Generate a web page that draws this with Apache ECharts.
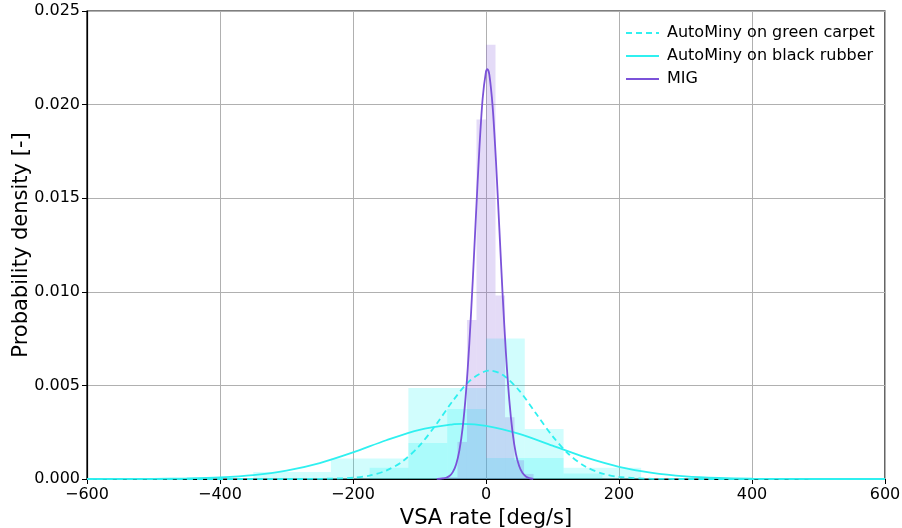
<!DOCTYPE html>
<html>
<head>
<meta charset="utf-8">
<script src="https://cdn.jsdelivr.net/npm/echarts@6/dist/echarts.min.js"></script>
<style>html,body{margin:0;padding:0;background:#fff}#c{width:902px;height:528px}</style>
</head>
<body>
<div id="c"></div>
<script>
// ---- data ----
const xTicks = [-600, -400, -200, 0, 200, 400, 600];
const yTicks = [0, 0.005, 0.010, 0.015, 0.020, 0.025];

// histogram: AutoMiny on green carpet
const greenEdges = [-175, -116.7, -58.3, 0, 58.3, 116.7, 175];
const greenDens  = [0.0006, 0.00192, 0.00374, 0.0075, 0.00267, 0.0003];
// histogram: AutoMiny on black rubber
const blackEdges = [-350, -233.3, -116.7, 0, 116.7, 233.3];
const blackDens  = [0.00037, 0.0011, 0.00486, 0.00112, 0.0006];
// histogram: MIG
const migEdges = [-71.5, -57.2, -42.9, -28.6, -14.3, 0, 14.3, 28.6, 42.9, 57.2, 71.5];
const migDens  = [0.0001, 0.0001, 0.00198, 0.0085, 0.0192, 0.0232, 0.0098, 0.0033, 0.0010, 0.00027];

const greenCurveX = [-600, -300, -250, -200, -175, -150, -125, -100, -75, -50, -25, 0, 6, 25, 50, 75, 100, 125, 150, 175, 200, 250, 300, 600];
const greenCurveY = [0, 0, 0.000006, 0.000067, 0.000186, 0.000449, 0.000954, 0.00178, 0.00291, 0.00417, 0.00523, 0.00577, 0.00579, 0.00557, 0.00472, 0.00351, 0.00229, 0.00131, 0.000656, 0.000289, 0.000111, 0.000011, 0, 0];
const blackCurveX = [-600, -500, -450, -400, -350, -300, -250, -200, -150, -100, -50, -36, 0, 50, 100, 150, 200, 250, 300, 350, 400, 500, 600];
const blackCurveY = [0.0000005, 0.0000087, 0.0000286, 0.0000818, 0.000204, 0.000447, 0.000853, 0.00142, 0.00207, 0.00263, 0.00292, 0.00294, 0.00284, 0.00241, 0.00178, 0.00115, 0.000652, 0.000322, 0.000139, 0.0000524, 0.0000173, 0.0000012, 0];
const migCurveX = [-74, -70, -65, -60, -55, -50, -45, -40, -35, -30, -25, -20, -15, -10, -5, 0, 2, 5, 10, 15, 20, 25, 30, 35, 40, 45, 50, 55, 60, 65, 71];
const migCurveY = [0.000003, 0.0000088, 0.00003, 0.000066, 0.00016, 0.00037, 0.00078, 0.00153, 0.00277, 0.00467, 0.00728, 0.01054, 0.01416, 0.01762, 0.02034, 0.02177, 0.0219, 0.0216, 0.01988, 0.01697, 0.01343, 0.00985, 0.00671, 0.00423, 0.00248, 0.00134, 0.00068, 0.000316, 0.000136, 0.00005, 0.000012];

const seriesNames = ['AutoMiny on green carpet', 'AutoMiny on black rubber', 'MIG'];
const cyanLine = '#2ff0f0';
const migLine = '#7b52d9';
const cyanFill = 'rgba(0,242,242,0.18)';
const migFill = 'rgba(130,90,220,0.22)';

function binsToData(edges, dens) {
  return dens.map((d, i) => [edges[i], edges[i + 1], d]);
}
function pairs(xs, ys) { return xs.map((x, i) => [x, ys[i]]); }

function histSeries(name, data, color) {
  return {
    type: 'custom',
    name: name,
    data: data,
    encode: { x: [0, 1], y: 2 },
    z: 1,
    silent: true,
    renderItem: function (params, api) {
      const p0 = api.coord([api.value(0), api.value(2)]);
      const p1 = api.coord([api.value(1), 0]);
      return {
        type: 'rect',
        shape: { x: p0[0], y: p0[1], width: p1[0] - p0[0], height: p1[1] - p0[1] },
        style: { fill: color, stroke: null }
      };
    }
  };
}

const font = 'DejaVu Sans';
const chart = echarts.init(document.getElementById('c'), null, { renderer: 'canvas' });
chart.setOption({
  animation: false,
  backgroundColor: '#ffffff',
  textStyle: { fontFamily: font },
  grid: { left: 87, right: 17, top: 11, bottom: 49, show: true, borderColor: '#000', borderWidth: 1.2,
          backgroundColor: 'transparent', containLabel: false, outerBoundsMode: 'none' },
  legend: {
    data: seriesNames.map(n => ({ name: n })),
    orient: 'vertical',
    left: 620,
    top: 20,
    itemWidth: 33,
    itemHeight: 14,
    itemGap: 7,
    itemStyle: { opacity: 0 },
    textStyle: { fontFamily: font, fontSize: 16, color: '#000', padding: [0, 0, 0, 3] },
    selectedMode: false
  },
  xAxis: {
    type: 'value', min: -600, max: 600, interval: 200,
    name: 'VSA rate [deg/s]', nameLocation: 'middle', nameGap: 22,
    nameTextStyle: { fontFamily: font, fontSize: 21, color: '#000' },
    axisLine: { show: true, onZero: false, lineStyle: { color: '#000', width: 1.2 } },
    axisTick: { show: true, length: 5, lineStyle: { color: '#000' } },
    axisLabel: { fontFamily: font, fontSize: 16, color: '#000', margin: 8,
      formatter: v => (v < 0 ? '\u2212' + Math.abs(v) : String(v)) },
    splitLine: { show: true, lineStyle: { color: '#b0b0b0', width: 1 } }
  },
  yAxis: {
    type: 'value', min: 0, max: 0.025, interval: 0.005,
    name: 'Probability density [-]', nameLocation: 'middle', nameGap: 55, nameMoveOverlap: false,
    nameTextStyle: { fontFamily: font, fontSize: 21, color: '#000' },
    axisLine: { show: true, onZero: false, lineStyle: { color: '#000', width: 1.2 } },
    axisTick: { show: true, length: 5, lineStyle: { color: '#000' } },
    axisLabel: { fontFamily: font, fontSize: 16, color: '#000', margin: 7,
      formatter: v => v.toFixed(3) },
    splitLine: { show: true, lineStyle: { color: '#b0b0b0', width: 1 } }
  },
  series: [
    histSeries('hist green', binsToData(greenEdges, greenDens), cyanFill),
    histSeries('hist black', binsToData(blackEdges, blackDens), cyanFill),
    histSeries('hist mig', binsToData(migEdges, migDens), migFill),
    {
      type: 'line', name: seriesNames[0], data: pairs(greenCurveX, greenCurveY),
      symbol: 'none', smooth: 0.3, z: 3, color: cyanLine,
      lineStyle: { color: cyanLine, width: 1.8, type: [6, 4] }
    },
    {
      type: 'line', name: seriesNames[1], data: pairs(blackCurveX, blackCurveY),
      symbol: 'none', smooth: 0.3, z: 3, color: cyanLine,
      lineStyle: { color: cyanLine, width: 1.8, type: 'solid' }
    },
    {
      type: 'line', name: seriesNames[2], data: pairs(migCurveX, migCurveY),
      symbol: 'none', smooth: 0.3, z: 3, color: migLine,
      lineStyle: { color: migLine, width: 1.8, type: 'solid' }
    }
  ]
});
</script>
</body>
</html>
